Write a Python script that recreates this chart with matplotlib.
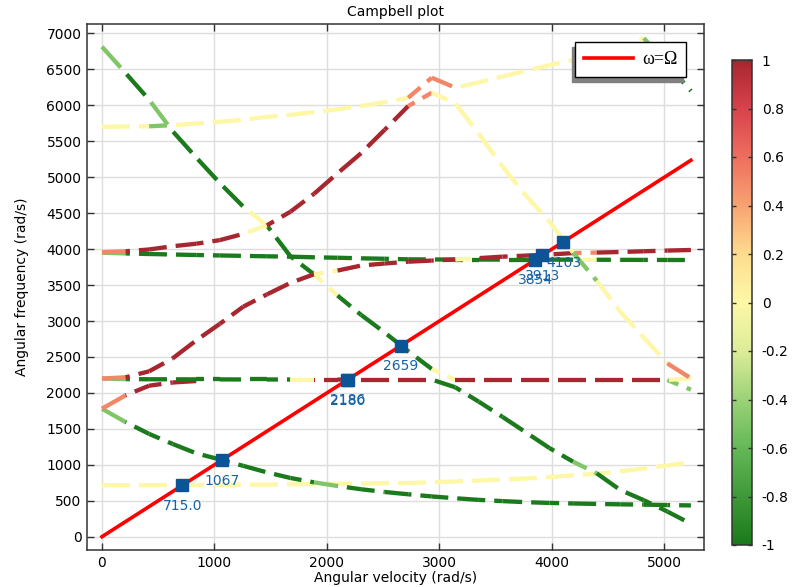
import numpy as np
import matplotlib
matplotlib.use('Agg')
import matplotlib.pyplot as plt
from matplotlib.colors import LinearSegmentedColormap, Normalize
from matplotlib.cm import ScalarMappable

plt.rcParams['axes.unicode_minus'] = False

# rotor speed samples (rad/s), 0..50000 rpm
omega = [0, 209.4, 418.9, 628.3, 837.8, 1047.2, 1256.6, 1466.1, 1675.5, 1885.0,
         2094.4, 2303.8, 2513.3, 2722.7, 2932.2, 3141.6, 3351.0, 3560.5, 3769.9,
         3979.4, 4188.8, 4398.2, 4607.7, 4817.1, 5026.5, 5236.0]

# whirl value of each segment: 1 forward, -1 backward, 0 mixed
R, S, Y, L, G = 1.0, 0.5, 0.0, -0.5, -1.0
H = np.nan  # segment lies under another curve

mode_a = [715, 716, 717, 718, 719, 721, 723, 725, 728, 731, 735, 739, 744, 749,
          756, 768, 782, 795, 810, 830, 852, 877, 910, 948, 990, 1035]
whirl_a = [Y, Y, Y, Y, Y, Y, Y, Y, Y, Y, Y, Y, Y, Y, Y, Y, Y, Y, Y, Y, Y, Y, Y, Y, Y]

mode_b = [1780, 1595, 1430, 1290, 1160, 1075, 985, 895, 817, 756, 705, 660, 622,
          590, 560, 535, 512, 495, 480, 470, 462, 456, 450, 446, 440, 435]
whirl_b = [L, G, G, G, G, G, G, G, G, L, G, G, G, G, G, G, G, G, G, G, G, G, G, G, G]

mode_c = [1780, 1966, 2100, 2145, 2165, 2172, 2176, 2178, 2180, 2180, 2180, 2180,
          2180, 2180, 2180, 2180, 2180, 2180, 2180, 2180, 2180, 2180, 2180, 2180,
          2180, 2045]
whirl_c = [S, R, R, R, H, H, H, H, H, H, H, H, H, H, H, H, H, H, H, H, H, H, H, H, L]

mode_d = [2200, 2192, 2190, 2189, 2188, 2188, 2187, 2187, 2186, 2186, 2186, 2185,
          2185, 2185, 2185, 2078, 1877, 1667, 1450, 1232, 1043, 882, 650, 508, 350, 180]
whirl_d = [L, G, G, G, G, G, G, G, Y, R, R, R, R, R, G, G, G, G, G, G, L, G, G, G, G]

mode_e = [6815, 6450, 6078, 5640, 5275, 4920, 4590, 4330, 3900, 3650, 3354, 3085,
          2840, 2580, 2333, 2180, 2180, 2180, 2180, 2180, 2180, 2180, 2180, 2180,
          2180, 2205]
whirl_e = [L, G, L, G, G, G, Y, G, G, Y, G, G, G, G, Y, R, R, R, R, R, R, R, R, R, Y]

mode_f = [3950, 3940, 3932, 3925, 3918, 3912, 3906, 3900, 3895, 3886, 3880, 3872,
          3866, 3858, 3856, 3855, 3855, 3854, 3854, 3854, 3853, 3852, 3851, 3850,
          3849, 3848]
whirl_f = [L, G, G, G, G, G, G, G, G, G, G, G, G, G, G, G, G, G, G, G, Y, G, G, G, G]

mode_g = [2200, 2217, 2300, 2480, 2730, 2960, 3200, 3370, 3530, 3650, 3702, 3771,
          3800, 3825, 3841, 3855, 3875, 3895, 3910, 3925, 3945, 3952, 3960, 3970,
          3980, 3988]
whirl_g = [S, R, R, R, R, R, R, R, R, Y, R, R, R, R, R, Y, R, R, R, R, S, R, R, R, R]

mode_h = [3956, 3970, 3995, 4040, 4075, 4125, 4212, 4330, 4520, 4769, 5055, 5334,
          5660, 5990, 6175, 6028, 5605, 5150, 4742, 4380, 3950, 3560, 3130, 2770,
          2410, 2203]
whirl_h = [S, R, R, R, R, R, Y, R, R, R, R, R, R, S, Y, Y, Y, Y, Y, Y, L, Y, Y, Y, S]

mode_i = [5702, 5705, 5708, 5725, 5745, 5770, 5800, 5840, 5868, 5905, 5945, 5990,
          6045, 6105, 6384, 6245, 6320, 6400, 6480, 6560, 6630, 6710, 6800, 6935,
          6570, 6200]
whirl_i = [Y, Y, L, Y, Y, Y, Y, Y, Y, Y, Y, Y, Y, S, S, Y, Y, Y, Y, Y, Y, Y, Y, L, G]

# critical speeds (crossings with omega = Omega)
crit_values = [715.0, 1067, 2186, 2180, 2659, 3854, 3913, 4103]
crit_labels = ['715.0', '1067', '2186', '2180', '2659', '3854', '3913', '4103']

# whirl colour table
whirl_levels = [-1, -0.6, -0.4, -0.2, 0, 0.2, 0.4, 0.6, 0.8, 1]
whirl_colors = ['#1b7a1b', '#64b857', '#9bd378', '#dcec98', '#fdf8a8',
                '#fddc8e', '#f7a372', '#ee6f5e', '#d8434d', '#a8262f']

cmap = LinearSegmentedColormap.from_list(
    'whirl', [((v + 1) / 2, c) for v, c in zip(whirl_levels, whirl_colors)])
norm = Normalize(-1, 1)

fig = plt.figure(figsize=(7.93, 5.87), dpi=100)
ax = fig.add_axes([87 / 793, 37 / 587, 617.3 / 793, 525.7 / 587])
ax.set_xlim(-133, 5355)
ax.set_ylim(-185, 7127)
ax.set_xticks([0, 1000, 2000, 3000, 4000, 5000])
ax.set_yticks(np.arange(0, 7001, 500))
ax.grid(color='#dddddd', lw=1)
ax.set_axisbelow(True)
ax.tick_params(direction='in', top=True, right=True, length=5, width=1,
               color='#333333', labelsize=10, pad=4)
for sp in ax.spines.values():
    sp.set_color('#333333')
    sp.set_linewidth(1.1)

# dash pattern in pixels, kept running along each whole curve
dash_on, dash_off = 28.0, 9.0
period = dash_on + dash_off


def draw_mode(vals, whirl, z):
    xy = np.column_stack([omega, vals]).astype(float)
    pts = ax.transData.transform(xy)
    seg_len = np.hypot(np.diff(pts[:, 0]), np.diff(pts[:, 1]))
    start = np.concatenate([[0.0], np.cumsum(seg_len)])
    for i, w in enumerate(whirl):
        if np.isnan(w):
            continue
        s0, s1 = start[i], start[i + 1]
        k = np.floor(s0 / period)
        while k * period < s1:
            a = max(s0, k * period)
            b = min(s1, k * period + dash_on)
            if b > a:
                t = (np.array([a, b]) - s0) / seg_len[i]
                xs = xy[i, 0] + t * (xy[i + 1, 0] - xy[i, 0])
                ys = xy[i, 1] + t * (xy[i + 1, 1] - xy[i, 1])
                ax.plot(xs, ys, color=cmap(norm(w)), lw=3.1,
                        solid_capstyle='butt', zorder=z)
            k += 1


modes = [(mode_a, whirl_a), (mode_b, whirl_b), (mode_c, whirl_c), (mode_d, whirl_d),
         (mode_e, whirl_e), (mode_f, whirl_f), (mode_g, whirl_g), (mode_h, whirl_h),
         (mode_i, whirl_i)]
for k, (vals, whirl) in enumerate(modes):
    draw_mode(vals, whirl, 2 + k * 0.01)

line, = ax.plot(omega, omega, color='red', lw=2.6, zorder=3, label='ω=Ω')
ax.plot(crit_values, crit_values, 's', color='#0b5596', ms=8.5, zorder=4)
for v, lab in zip(crit_values, crit_labels):
    ax.annotate(lab, (v, v), xytext=(0, -15), textcoords='offset points',
                ha='center', va='center', color='#1763a6', fontsize=10, zorder=5)

ax.legend(handles=[line], loc='upper right', fancybox=False, framealpha=1,
          edgecolor='black', borderpad=0.5, borderaxespad=1.0, handlelength=2.7,
          handletextpad=0.5,
          prop={'family': 'Liberation Serif', 'size': 13},
          shadow={'ox': -2.5, 'oy': -3.2, 'facecolor': '#808080',
                  'edgecolor': '#808080', 'alpha': 1})

ax.set_title('Campbell plot', fontsize=10)
ax.set_xlabel('Angular velocity (rad/s)', fontsize=10)
ax.set_ylabel('Angular frequency (rad/s)', fontsize=10)
ax.xaxis.set_label_coords(0.5, -0.040)
ax.yaxis.set_label_coords(-0.094, 0.5)

# colour legend
cax = fig.add_axes([732 / 793, 42 / 587, 20 / 793, 485 / 587])
cb_ticks = [1, 0.8, 0.6, 0.4, 0.2, 0, -0.2, -0.4, -0.6, -0.8, -1]
cb = fig.colorbar(ScalarMappable(norm=norm, cmap=cmap), cax=cax, ticks=cb_ticks)
cb.ax.set_yticklabels(['1', '0.8', '0.6', '0.4', '0.2', '0', '-0.2', '-0.4',
                       '-0.6', '-0.8', '-1'])
cb.ax.tick_params(direction='in', left=True, right=True, length=3, width=1,
                  color='#333333', labelsize=10, pad=7)
cb.outline.set_edgecolor('#333333')
cb.outline.set_linewidth(1.1)

fig.savefig('out.png', dpi=100)
